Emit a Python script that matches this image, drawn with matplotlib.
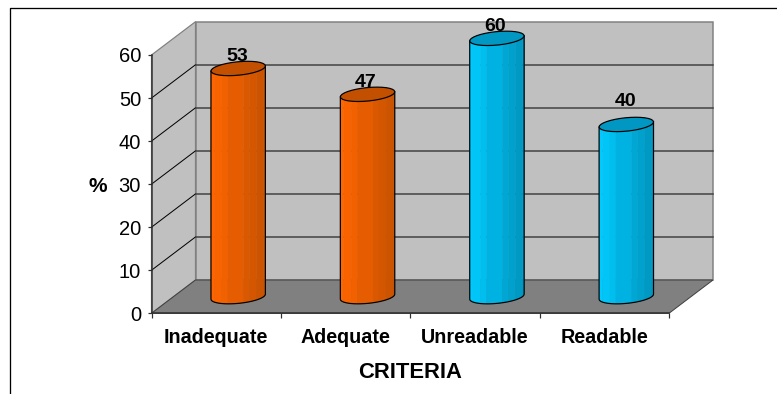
from matplotlib import pyplot
from matplotlib.lines import Line2D
from matplotlib.patches import Polygon
import numpy

categories = ["Inadequate", "Adequate", "Unreadable", "Readable"]
values = [53, 47, 60, 40]
yticks = [0, 10, 20, 30, 40, 50, 60]

W, H = 777, 394
X0, X1 = 151.5, 669.0
Y0, Y60 = 313.3, 55.0

# oblique depth of the box, in data units
DX = 44 / ((X1 - X0) / 4)
DY = 33.3 / ((Y0 - Y60) / 60)

# cylinder shape
RX = 25.5 / ((X1 - X0) / 4)
RD = 0.216
T0 = numpy.arctan2(RD * 44, 25.5)

ORANGE = ((1.0, 0.40, 0.0), (0.78, 0.32, 0.0), "#C25000")
CYAN = ((0.0, 0.80, 1.0), (0.0, 0.58, 0.74), "#0098C2")
barColors = [ORANGE, ORANGE, CYAN, CYAN]

# label shift from the lid centre, in pixels
labelShift = [(-0.5, 12.2), (-1.9, 11.5), (-2.0, 12.2), (-0.7, 23.0)]

# strip edges across the visible width of a cylinder
STRIPS = [0, .06, .2, .31, .6, .71, .84, .97, 1]


def project(x, v, d):
    return x + DX * d, v + DY * d


def px(width):
    return width * 0.72


def ringPoint(cx, v, t):
    return project(cx + RX * numpy.cos(t), v, 0.5 + RD * numpy.sin(t))


def plotBox(ax):
    wall = "#C0C0C0"
    edge = "#808080"
    side = [project(0, 0, 0), project(0, 60, 0), project(0, 60, 1), project(0, 0, 1)]
    back = [project(0, 0, 1), project(0, 60, 1), project(4, 60, 1), project(4, 0, 1)]
    floor = [project(0, 0, 0), project(0, 0, 1), project(4, 0, 1), project(4, 0, 0)]
    ax.add_patch(Polygon(side, fc=wall, ec=edge, lw=px(1.2), clip_on=False, zorder=1))
    ax.add_patch(Polygon(back, fc=wall, ec=edge, lw=px(1.5), clip_on=False, zorder=1))
    ax.add_patch(Polygon(floor, fc="#808080", ec="#404040", lw=px(1), clip_on=False, zorder=1.5))
    for v in yticks[1:-1]:
        a, b, c = project(0, v, 0), project(0, v, 1), project(4, v, 1)
        ax.plot([a[0], b[0]], [a[1], b[1]], color="k", lw=px(1), clip_on=False, zorder=2)
        ax.plot([b[0], c[0]], [b[1], c[1]], color="#404040", lw=px(1.5), clip_on=False, zorder=2)


def plotCylinder(ax, cx, value, colors):
    light, dark, top = colors
    light = numpy.array(light)
    dark = numpy.array(dark)
    for i in range(len(STRIPS) - 1):
        f0, f1 = STRIPS[i], STRIPS[i + 1]
        t = T0 - numpy.pi + numpy.arccos(1 - 2 * numpy.linspace(f0, f1, 6))
        low = [ringPoint(cx, 0, a) for a in t]
        high = [ringPoint(cx, value, a) for a in t[::-1]]
        c = light + (dark - light) * (f0 + f1) / 2
        ax.add_patch(Polygon(low + high, fc=c, ec=c, lw=0.3, clip_on=False, zorder=3))

    # outline of the body
    t = numpy.linspace(T0 - numpy.pi, T0, 25)
    bottom = [ringPoint(cx, 0, a) for a in t]
    outline = [ringPoint(cx, value, T0 - numpy.pi)] + bottom + [ringPoint(cx, value, T0)]
    ax.plot(*zip(*outline), color="k", lw=px(1.2), clip_on=False, zorder=4)

    # lid
    t = numpy.linspace(0, 2 * numpy.pi, 33)
    lid = [ringPoint(cx, value, a) for a in t]
    ax.add_patch(Polygon(lid, fc=top, ec="k", lw=px(1.2), clip_on=False, zorder=4))


if __name__ == '__main__':
    pyplot.rcParams['font.family'] = ['Liberation Sans', 'DejaVu Sans']
    fig = pyplot.figure(figsize=(W / 100, H / 100), dpi=100, facecolor="white")
    ax = fig.add_axes([X0 / W, 1 - Y0 / H, (X1 - X0) / W, (Y0 - Y60) / H])
    ax.patch.set_visible(False)
    ax.set_xlim(0, 4)
    ax.set_ylim(0, 60)

    plotBox(ax)
    for i, v in enumerate(values):
        plotCylinder(ax, i + 0.5, v, barColors[i])
        x, y = project(i + 0.5, v, 0.5)
        sx, sy = labelShift[i]
        ax.annotate(str(v), (x, y), xytext=(px(sx), px(sy)), textcoords="offset points",
                    ha="center", va="center", fontsize=14, fontweight="bold",
                    color="k", zorder=5, annotation_clip=False)

    ax.set_yticks(yticks)
    ax.set_xticks(range(5))
    ax.set_xticklabels([])
    ax.set_xticks(numpy.arange(4) + 0.5, categories, minor=True, fontsize=14.2, fontweight="bold")
    ax.tick_params(axis="x", which="minor", length=0, pad=px(15))
    ax.tick_params(axis="both", which="major", length=px(4.5), width=px(1.2), color="#303030")
    ax.tick_params(axis="y", which="major", labelsize=14.5, pad=px(6))
    for s in ("top", "right"):
        ax.spines[s].set_visible(False)
    for s in ("left", "bottom"):
        ax.spines[s].set_linewidth(px(1.5))
        ax.spines[s].set_color("#303030")
        ax.spines[s].set_zorder(2.5)

    fig.text(98 / W, 1 - 186.5 / H, "%", ha="center", va="center",
             fontsize=15, fontweight="bold")
    fig.text(410 / W, 1 - 372.5 / H, "CRITERIA", ha="center", va="center",
             fontsize=15.8, fontweight="bold")

    # chart area frame, open on the right and at the bottom
    fx = [9.5 / W, 9.5 / W, 1]
    fy = [0, 1 - 7.5 / H, 1 - 7.5 / H]
    fig.add_artist(Line2D(fx, fy, color="k", lw=px(1.3)))

    pyplot.savefig("out.png", dpi=100, facecolor="white")
